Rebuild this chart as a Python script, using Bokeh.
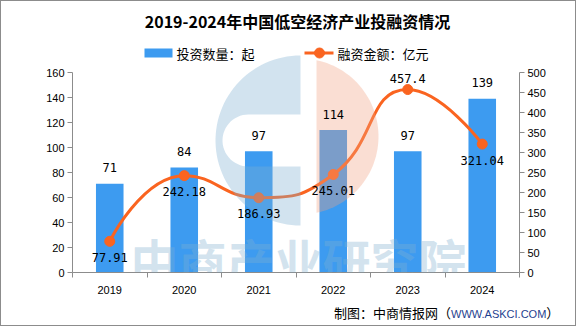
import numpy as np
from bokeh.plotting import figure
from bokeh.models import Range1d, LinearAxis, FixedTicker, ColumnDataSource, Label, Div, InlineStyleSheet
from bokeh.layouts import column
from bokeh.core.properties import value
from bokeh.embed import file_html
from bokeh.resources import INLINE

# ---------------- data ----------------
years = ["2019", "2020", "2021", "2022", "2023", "2024"]
deal_counts = [71, 84, 97, 114, 97, 139]                   # 投资数量：起
funding = [77.91, 242.18, 186.93, 245.01, 457.4, 321.04]  # 融资金额：亿元
left_ticks = [0, 20, 40, 60, 80, 100, 120, 140, 160]
right_ticks = [0, 50, 100, 150, 200, 250, 300, 350, 400, 450, 500]

title_text = "2019-2024年中国低空经济产业投融资情况"
legend_bar = "投资数量：起"
legend_line = "融资金额：亿元"
watermark = "中商产业研究院"
source_cjk = "制图：中商情报网（"
source_url = "WWW.ASKCI.COM"
source_end = "）"

# ---------------- layout (image px; content sits inside a 1px border) ----------------
BOX_W, BOX_H = 576, 326        # outer box incl. the 1px border
IN_W = BOX_W - 2
FIG_H = 300
FOOT_H = BOX_H - 2 - FIG_H
FL, FR, FB, FT = 72, 519, 272, 1   # frame left, right, bottom, top (image px)
AX_TOP = 72                        # pixel of axis maxima
n = len(years)
centers = [i + 0.5 for i in range(n)]
bounds = list(range(n + 1))

left_max = left_ticks[-1]
right_max = right_ticks[-1]
y_end = left_max * (FB - FT) / (FB - AX_TOP)
yr_end = right_max * (FB - FT) / (FB - AX_TOP)

BAR_C = "#3D9BF0"
LINE_C = "#FA6420"
AXIS_C = "#8c8c8c"

p = figure(width=IN_W, height=FIG_H, x_range=Range1d(0, n), y_range=Range1d(0, y_end),
           min_border_left=FL - 1, min_border_right=IN_W - (FR - 1), min_border_top=0,
           min_border_bottom=FIG_H - (FB - 1), toolbar_location=None, output_backend="svg",
           title=None, margin=0)
p.extra_y_ranges = {"right": Range1d(0, yr_end), "py": Range1d(FB, FT)}
p.extra_x_ranges = {"px": Range1d(FL, FR)}
p.outline_line_color = None
p.grid.visible = False
p.background_fill_alpha = 0
p.border_fill_alpha = 0

tick_font = "Liberation Sans"

# x axis
xa = p.xaxis[0]
xa.ticker = FixedTicker(ticks=centers, minor_ticks=bounds)
xa.major_label_overrides = {c: y for c, y in zip(centers, years)}
xa.major_tick_line_color = None
xa.major_tick_out = 0
xa.major_tick_in = 0
xa.minor_tick_out = 5
xa.minor_tick_in = 0
xa.minor_tick_line_color = AXIS_C
xa.axis_line_color = AXIS_C
xa.major_label_standoff = 8
xa.major_label_text_font = tick_font
xa.major_label_text_font_size = "11px"
xa.major_label_text_color = "#000000"

# left axis
ya = p.yaxis[0]
ya.ticker = FixedTicker(ticks=left_ticks)
ya.bounds = (0, left_max)
ya.axis_line_color = AXIS_C
ya.major_tick_line_color = AXIS_C
ya.major_tick_out = 5
ya.major_tick_in = 0
ya.minor_tick_line_color = None
ya.major_label_standoff = 3
ya.major_label_text_font = tick_font
ya.major_label_text_font_size = "11px"
ya.major_label_text_color = "#000000"

# right axis
ra = LinearAxis(y_range_name="right", ticker=FixedTicker(ticks=right_ticks), bounds=(0, right_max))
ra.axis_line_color = AXIS_C
ra.major_tick_line_color = AXIS_C
ra.major_tick_out = 5
ra.major_tick_in = 0
ra.minor_tick_line_color = None
ra.major_label_standoff = 3
ra.major_label_text_font = tick_font
ra.major_label_text_font_size = "11px"
ra.major_label_text_color = "#000000"
p.add_layout(ra, "right")

# ---------------- bars ----------------
p.vbar(x=centers, top=deal_counts, width=0.37, fill_color=BAR_C, line_color=None)

# ---------------- smooth line (echarts-like bezier) ----------------
sx = (FR - FL) / n
sy = (FB - AX_TOP) / right_max
pts = [(c * sx, v * sy) for c, v in zip(centers, funding)]
smooth = 0.5
segs = []
cp0 = pts[0]
for k in range(1, len(pts)):
    x, y = pts[k]
    px_, py_ = pts[k - 1]
    if k == len(pts) - 1:
        cp1 = (x, y)
        nxt_cp0 = (x, y)
    else:
        nx, ny = pts[k + 1]
        vx, vy = nx - px_, ny - py_
        lp = np.hypot(x - px_, y - py_)
        ln = np.hypot(nx - x, ny - y)
        r = ln / (ln + lp)
        ncx = x + vx * smooth * r
        ncy = y + vy * smooth * r
        ncx = max(min(ncx, max(nx, x)), min(nx, x))
        ncy = max(min(ncy, max(ny, y)), min(ny, y))
        vx, vy = ncx - x, ncy - y
        c1x = x - vx * lp / ln
        c1y = y - vy * lp / ln
        c1x = max(min(c1x, max(px_, x)), min(px_, x))
        c1y = max(min(c1y, max(py_, y)), min(py_, y))
        vx, vy = x - c1x, y - c1y
        ncx = x + vx * ln / lp
        ncy = y + vy * ln / lp
        cp1 = (c1x, c1y)
        nxt_cp0 = (ncx, ncy)
    segs.append((px_, py_, x, y, cp0[0], cp0[1], cp1[0], cp1[1]))
    cp0 = nxt_cp0
segs = np.array(segs)
bz = ColumnDataSource(dict(x0=segs[:, 0] / sx, y0=segs[:, 1] / sy, x1=segs[:, 2] / sx, y1=segs[:, 3] / sy,
                           cx0=segs[:, 4] / sx, cy0=segs[:, 5] / sy, cx1=segs[:, 6] / sx, cy1=segs[:, 7] / sy))
p.bezier(x0="x0", y0="y0", x1="x1", y1="y1", cx0="cx0", cy0="cy0", cx1="cx1", cy1="cy1",
         source=bz, line_color=LINE_C, line_width=3, y_range_name="right")
p.scatter(x=centers, y=funding, size=10, fill_color=LINE_C, line_color=LINE_C, y_range_name="right")

# ---------------- watermark logo (decoration, image px) ----------------
cx, cy, R = 300.0, 140.0, 85.0
slot_r = 26.0
slot_cx = 248.0
sa = np.linspace(np.pi / 2, 3 * np.pi / 2, 30)
slot_x = slot_cx + slot_r * np.cos(sa)
slot_y = cy - slot_r * np.sin(sa)
arc_a = np.linspace(3 * np.pi / 2, np.pi / 2, 60)
arc_x = cx + R * np.cos(arc_a)
arc_y = cy - R * np.sin(arc_a)
bx = [cx] + list(slot_x) + [cx] + list(arc_x) + [cx]
by = [cy - slot_r] + list(slot_y) + [cy + slot_r] + list(arc_y) + [cy - slot_r]
p.patch(bx, by, fill_color="#7FB0D0", fill_alpha=0.35, line_color=None,
        x_range_name="px", y_range_name="py")

pr = 78.0
pcx, pcy = 300.0, 136.0
x_edge = 316.0
a0 = np.arcsin((x_edge - pcx) / pr)
ang = np.linspace(np.pi / 2 - a0, -(np.pi / 2 - a0), 60)
pxs = list(pcx + pr * np.cos(ang))
pys = list(pcy - pr * np.sin(ang))
p.patch(pxs, pys, fill_color="#F0A080", fill_alpha=0.35, line_color=None,
        x_range_name="px", y_range_name="py")

# ---------------- value labels ----------------
lab_font = "DejaVu Sans Mono"
bar_src = ColumnDataSource(dict(x=centers, y=deal_counts, t=[str(v) for v in deal_counts]))
p.text(x="x", y="y", text="t", source=bar_src, y_offset=-16, text_align="center",
       text_baseline="middle", text_font=value(lab_font), text_font_size="12px", text_color="#000000")
fmax = max(funding)
line_src = ColumnDataSource(dict(x=centers, y=funding, t=[str(v) for v in funding],
                                 off=[-11 if v == fmax else 16 for v in funding]))
p.text(x="x", y="y", text="t", source=line_src, y_offset="off", text_align="center",
       text_baseline="middle", text_font=value(lab_font), text_font_size="12px", text_color="#000000",
       y_range_name="right")

# ---------------- title & legend (image px) ----------------
cjk = "Noto Sans CJK SC"
p.text(x=[297], y=[20], text=[title_text], text_align="center", text_baseline="middle",
       text_font=value(cjk), text_font_style="bold", text_font_size="16px", text_color="#000000",
       x_range_name="px", y_range_name="py")
p.quad(left=[144], right=[172], top=[48], bottom=[57], fill_color=BAR_C, line_color=None,
       x_range_name="px", y_range_name="py")
p.text(x=[176], y=[52.5], text=[legend_bar], text_align="left", text_baseline="middle",
       text_font=value(cjk), text_font_size="13px", text_color="#000000",
       x_range_name="px", y_range_name="py")
p.line(x=[304, 333], y=[52.5, 52.5], line_color=LINE_C, line_width=3,
       x_range_name="px", y_range_name="py")
p.scatter(x=[319], y=[52.5], size=10, fill_color=LINE_C, line_color=LINE_C,
          x_range_name="px", y_range_name="py")
p.text(x=[337], y=[52.5], text=[legend_line], text_align="left", text_baseline="middle",
       text_font=value(cjk), text_font_size="13px", text_color="#000000",
       x_range_name="px", y_range_name="py")

# ---------------- watermark text ----------------
p.add_layout(Label(x=298, y=258, text=watermark, x_range_name="px", y_range_name="py",
                   text_align="center", text_baseline="middle", text_font=cjk,
                   text_font_style="bold", text_font_size="48px", text_color="#7FB0D0",
                   text_alpha=0.35))

# ---------------- footer (source) ----------------
FOOT_PAD = 333
foot_html = (
    '<div style="width:%dpx;height:%dpx;line-height:%dpx;text-align:left;white-space:nowrap;'
    'box-sizing:border-box;padding-left:%dpx;font-family:\'Noto Sans CJK SC\';font-size:13px;color:#000;">'
    '%s<span style="font-family:\'Liberation Sans\';font-size:11px;color:#1F3F8F;">%s</span>%s</div>'
    % (IN_W, FOOT_H, FOOT_H, FOOT_PAD, source_cjk, source_url, source_end)
)
foot = Div(text=foot_html, width=IN_W, height=FOOT_H, margin=0,
           stylesheets=[InlineStyleSheet(css=":host { margin: 0; padding: 0; overflow: hidden; }")])

border_css = InlineStyleSheet(css=":host { box-sizing: content-box; border: 1px solid #8c8c8c; }")
layout = column(p, foot, spacing=0, margin=0, width=IN_W, height=FIG_H + FOOT_H,
                stylesheets=[border_css])

open("out.html", "w").write(file_html(layout, INLINE))
